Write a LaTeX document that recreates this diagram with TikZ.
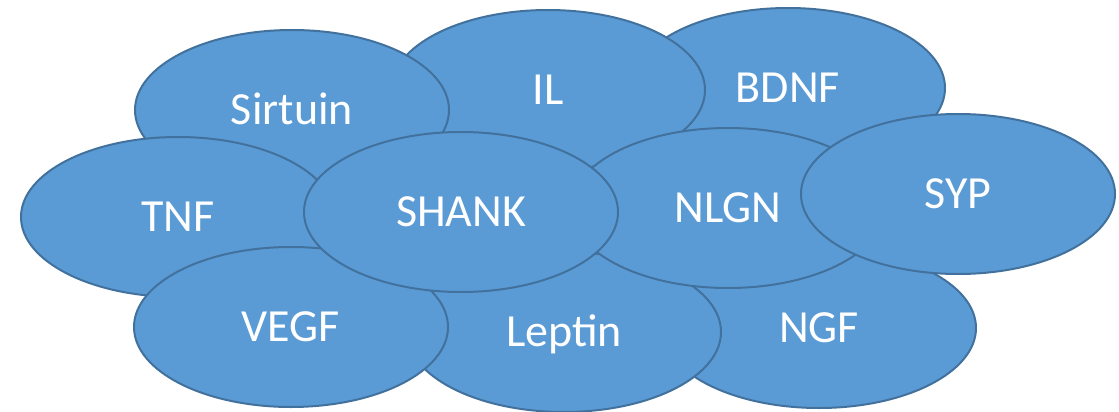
\documentclass[tikz,border=0pt]{standalone}
\usepackage{fontspec}
\setmainfont{Carlito}
\usetikzlibrary{shapes.geometric}
\definecolor{bubblefill}{HTML}{5B9BD5}
\definecolor{bubbleline}{HTML}{41719C}
\begin{document}
\begin{tikzpicture}[x=1pt,y=-1pt,
  bubble/.style={ellipse, draw=bubbleline, fill=bubblefill, line width=2pt,
    minimum width=314pt, minimum height=160pt, inner sep=0pt,
    text=white, font=\fontsize{46}{50}\selectfont,
    text height=29.5pt, text depth=0pt}]
\useasboundingbox (0,0) rectangle (1119,412);
\node[bubble] (bdnf) at (788,88) {BDNF};
\node[bubble] (il) at (548,90) {IL};
\node[bubble] (sirtuin) at (292,110) {Sirtuin};
\node[bubble] (tnf) at (178,217) {TNF};
\node[bubble] (ngf) at (819,328) {NGF};
\node[bubble] (leptin) at (564,332) {Leptin};
\node[bubble] (vegf) at (291,327) {VEGF};
\node[bubble] (nlgn) at (728,208) {NLGN};
\node[bubble] (shank) at (461,212) {SHANK};
\node[bubble] (syp) at (958,194) {SYP};
\end{tikzpicture}
\end{document}
